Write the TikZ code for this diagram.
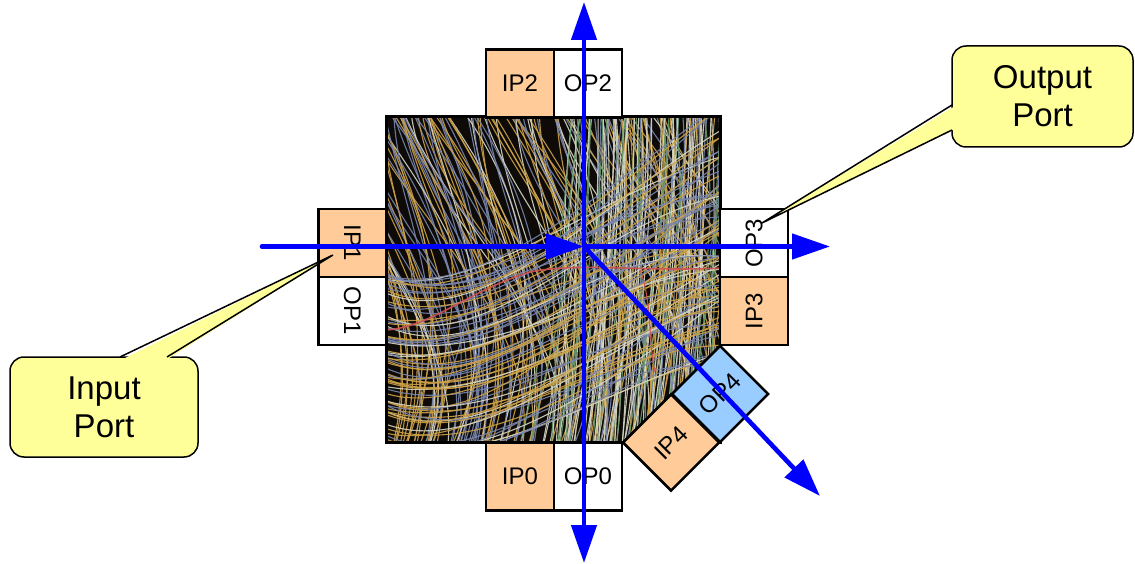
\documentclass[tikz,border=0pt]{standalone}
\usepackage{fontspec}
\setmainfont{Liberation Sans}
\usetikzlibrary{arrows.meta}

\newlength{\du}
\setlength{\du}{1pt}

\newcommand{\portfont}{\fontsize{24}{28}\selectfont}
\newcommand{\notefont}{\fontsize{33}{38}\selectfont}

\definecolor{portin}{rgb}{1.000000, 0.800000, 0.600000}
\definecolor{portout}{rgb}{1.000000, 1.000000, 1.000000}
\definecolor{portside}{rgb}{0.600000, 0.800000, 1.000000}
\definecolor{notefill}{rgb}{1.000000, 1.000000, 0.600000}
\definecolor{flowcolor}{rgb}{0.000000, 0.000000, 1.000000}
\definecolor{wiredark}{rgb}{0.050000, 0.040000, 0.030000}
\definecolor{wiregold}{rgb}{0.800000, 0.630000, 0.280000}
\definecolor{wireblue}{rgb}{0.470000, 0.520000, 0.680000}
\definecolor{wirepale}{rgb}{0.840000, 0.840000, 0.770000}
\definecolor{wiregreen}{rgb}{0.400000, 0.600000, 0.420000}
\definecolor{wirered}{rgb}{0.820000, 0.320000, 0.320000}

\tikzset{
  port/.style={draw=black, line width=2.6\du, minimum width=68\du, minimum height=68\du,
    inner sep=0pt, font=\portfont},
  note/.style={draw=black, fill=notefill, line width=1.5\du, rounded corners=14\du,
    inner sep=0pt, align=center, font=\notefont},
  flow/.style={draw=flowcolor, line width=4.6\du, -{Triangle[length=38pt,width=25pt]}},
  strand/.style={line width=1.1\du, opacity=0.9}
}

\pgfmathdeclarerandomlist{leftcols}{{wiregold}{wiregold}{wiregold}{wireblue}{wireblue}{wirepale}}
\pgfmathdeclarerandomlist{rightcols}{{wirepale}{wirepale}{wiregreen}{wiregold}{wireblue}}

\begin{document}
\begin{tikzpicture}
\pgftransformxscale{1.000000}
\pgftransformyscale{-1.000000}
\useasboundingbox (0\du,0\du) rectangle (1135\du,564\du);

% crossbar with its bundle of wires
\node[fill=wiredark, minimum width=333\du, minimum height=325\du, inner sep=0pt] (xbar) at (553.5\du,279.5\du) {};
\pgfmathsetseed{2718}
\begin{scope}
\clip (xbar.south west) rectangle (xbar.north east);
\foreach \i in {1,...,130}{
  \pgfmathsetmacro{\xa}{300+rnd*360}
  \pgfmathsetmacro{\xc}{\xa+rnd*90}
  \pgfmathsetmacro{\xb}{\xa+50+rnd*150}
  \pgfmathsetmacro{\xd}{\xb-20-rnd*40}
  \pgfmathrandomitem{\wc}{leftcols}
  \draw[strand, color=\wc] (\xa\du,105\du) .. controls (\xc\du,220\du) and (\xb\du,320\du) .. (\xd\du,455\du);
}
\foreach \i in {1,...,100}{
  \pgfmathsetmacro{\xa}{570+rnd*160}
  \pgfmathsetmacro{\xc}{\xa-20+rnd*40}
  \pgfmathsetmacro{\xb}{\xa-30+rnd*40}
  \pgfmathsetmacro{\xd}{\xb-30+rnd*30}
  \pgfmathrandomitem{\wc}{rightcols}
  \draw[strand, color=\wc] (\xa\du,105\du) .. controls (\xc\du,220\du) and (\xb\du,330\du) .. (\xd\du,455\du);
}
\foreach \i in {1,...,70}{
  \pgfmathsetmacro{\ya}{270+rnd*180}
  \pgfmathsetmacro{\yc}{\ya+20+rnd*40}
  \pgfmathsetmacro{\yb}{\ya-40-rnd*60}
  \pgfmathsetmacro{\yd}{\ya-60-rnd*120}
  \pgfmathrandomitem{\wc}{leftcols}
  \draw[strand, color=\wc] (380\du,\ya\du) .. controls (480\du,\yc\du) and (600\du,\yb\du) .. (730\du,\yd\du);
}
\draw[strand, wirered, line width=1.6\du] (385\du,330\du) .. controls (430\du,328\du) and (470\du,290\du) .. (530\du,272\du)
  .. controls (580\du,262\du) and (640\du,272\du) .. (722\du,268\du);
\draw[strand, wirered] (640\du,270\du) .. controls (652\du,300\du) and (648\du,340\du) .. (655\du,372\du);
\end{scope}
\draw[line width=3\du] (xbar.south west) rectangle (xbar.north east);

% ports
\node[port, fill=portin] (ip2) at (520\du,83.5\du) {IP2};
\node[port, fill=portout] (op2) at (588\du,83.5\du) {OP2};
\node[port, fill=portin] (ip0) at (520\du,476.5\du) {IP0};
\node[port, fill=portout] (op0) at (588\du,476.5\du) {OP0};
\node[port, fill=portin, rotate=-90] (ip1) at (352.5\du,243\du) {IP1};
\node[port, fill=portout, rotate=-90] (op1) at (352.5\du,311\du) {OP1};
\node[port, fill=portout, rotate=90] (op3) at (754\du,243\du) {OP3};
\node[port, fill=portin, rotate=90] (ip3) at (754\du,311\du) {IP3};
\node[port, fill=portside, rotate=45] (op4) at (720\du,394\du) {OP4};
\node[port, fill=portin, rotate=45] (ip4) at (671\du,442.5\du) {IP4};

% flows through the crossbar
\coordinate (hub) at (584\du,246.5\du);
\coordinate (inlead) at (262\du,246.5\du);
\coordinate (outnorth) at (584\du,2\du);
\coordinate (outsouth) at (584\du,563\du);
\coordinate (outeast) at (830\du,246.5\du);
\coordinate (outdiag) at (820\du,496\du);
\draw[flow, line cap=round] (inlead) -- (hub);
\draw[flow] (hub) -- (outnorth);
\draw[flow] (hub) -- (outsouth);
\draw[flow] (hub) -- (outeast);
\draw[flow] (hub) -- (outdiag);

% callouts
\node[note, minimum width=188\du, minimum height=100\du] (innote) at (104\du,407\du) {Input\\Port};
\coordinate (intip) at (333\du,255\du);
\fill[notefill] (121\du,360\du) -- (intip) -- (166\du,360\du) -- cycle;
\draw[line width=1.5\du] (120\du,357\du) -- (intip) -- (167\du,357\du);

\node[note, minimum width=181\du, minimum height=101\du] (outnote) at (1042.5\du,96.5\du) {Output\\Port};
\coordinate (outtip) at (762\du,223\du);
\fill[notefill] (955\du,106\du) -- (outtip) -- (955\du,129\du) -- cycle;
\draw[line width=1.5\du] (952\du,105\du) -- (outtip) -- (952\du,130\du);
\end{tikzpicture}
\end{document}
